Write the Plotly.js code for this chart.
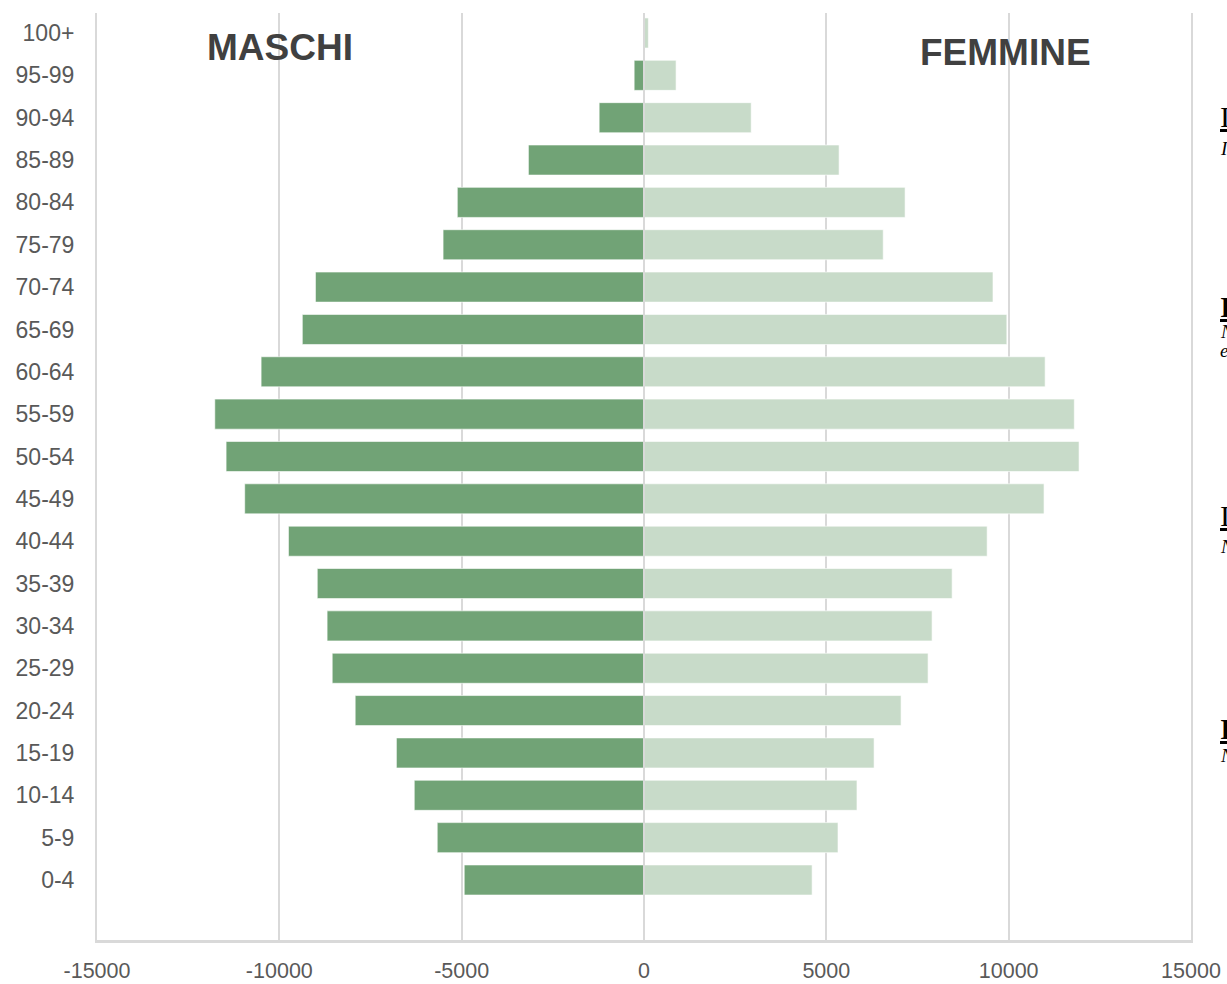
<!DOCTYPE html>
<html>
<head>
<meta charset="utf-8">
<script src="https://cdn.plot.ly/plotly-3.0.1.min.js"></script>
<style>html,body{margin:0;padding:0;background:#fff;overflow:hidden}#chart{width:1227px;height:984px}</style>
</head>
<body>
<div id="chart"></div>
<script>
// Age classes (bottom to top)
const ageClasses = ["0-4","5-9","10-14","15-19","20-24","25-29","30-34","35-39","40-44","45-49","50-54","55-59","60-64","65-69","70-74","75-79","80-84","85-89","90-94","95-99","100+"];
// Males (negative values, left side)
const maschi = [-4930,-5670,-6300,-6790,-7920,-8550,-8690,-8960,-9750,-10950,-11460,-11770,-10500,-9370,-9010,-5510,-5120,-3170,-1230,-270,-10];
// Females (right side)
const femmine = [4610,5320,5840,6310,7050,7790,7900,8450,9410,10970,11930,11800,11000,9950,9570,6560,7160,5350,2940,880,120];
const xTicks = [-15000,-10000,-5000,0,5000,10000,15000];

const plotL = 97, plotR = 1191, plotT = 13, plotB = 940;
const W = 1227, H = 984;
function px2paperX(px){ return (px - plotL) / (plotR - plotL); }
function px2paperY(py){ return (plotB - py) / (plotB - plotT); }

const traces = [
  {type:'bar', orientation:'h', y:ageClasses, x:maschi, name:'Maschi',
   marker:{color:'#71a376', line:{color:'#ffffff', width:0.6}}, hoverinfo:'skip'},
  {type:'bar', orientation:'h', y:ageClasses, x:femmine, name:'Femmine',
   marker:{color:'#c8dbc9', line:{color:'#ffffff', width:0.6}}, hoverinfo:'skip'}
];

const sideFrag = [
  {y:117, text:'<u>Indice di vecchiaia</u>', size:30},
  {y:149, text:'Indica il rapporto tra anziani e giovani', size:19, italic:true},
  {y:306, text:'<b><u>Indice di dipendenza</u></b>', size:30},
  {y:332, text:'Numero di individui non autonomi', size:19, italic:true},
  {y:351, text:'età ogni 100 in età lavorativa', size:19, italic:true},
  {y:515, text:'<u>Indice di ricambio</u>', size:30},
  {y:546, text:'Numero di persone in uscita', size:19, italic:true},
  {y:728, text:'<b><u>Indice di struttura</u></b>', size:30},
  {y:755, text:'Numero di persone in età attiva', size:19, italic:true}
];

const annotations = [
  {xref:'paper', yref:'paper', x:px2paperX(280), y:px2paperY(48), text:'<b>MASCHI</b>', showarrow:false,
   font:{family:'Liberation Sans, Arial, sans-serif', size:37, color:'#404040'}, xanchor:'center', yanchor:'middle'},
  {xref:'paper', yref:'paper', x:px2paperX(1005), y:px2paperY(52), text:'<b>FEMMINE</b>', showarrow:false,
   font:{family:'Liberation Sans, Arial, sans-serif', size:37, color:'#404040'}, xanchor:'center', yanchor:'middle'}
];
sideFrag.forEach(f => {
  annotations.push({xref:'paper', yref:'paper', x:px2paperX(1218), y:px2paperY(f.y),
    text: f.italic ? '<i>'+f.text+'</i>' : f.text, showarrow:false, xanchor:'left', yanchor:'middle',
    font:{family:'Liberation Serif, Times New Roman, serif', size:f.size, color:'#000000'}});
});

const layout = {
  width:W, height:H,
  margin:{l:plotL, r:W-plotR, t:plotT, b:H-plotB, pad:0},
  paper_bgcolor:'#ffffff', plot_bgcolor:'#ffffff',
  barmode:'overlay', bargap:0.29,
  showlegend:false, hovermode:false,
  font:{family:'Liberation Sans, Arial, sans-serif', color:'#595959'},
  xaxis:{range:[-15000,15000], tickvals:xTicks, ticktext:xTicks.map(String), showgrid:true,
    gridcolor:'#d9d9d9', gridwidth:2, zeroline:false, showline:true, linecolor:'#d9d9d9', linewidth:3,
    ticks:'', ticklabelstandoff:9, tickfont:{size:21.5, color:'#595959'}, fixedrange:true},
  yaxis:{type:'category', categoryorder:'array', categoryarray:ageClasses, range:[-1.417,20.472],
    showgrid:false, zeroline:false, showline:true, mirror:true, linecolor:'#d9d9d9', linewidth:2,
    ticks:'', ticklabelstandoff:16, tickfont:{size:23, color:'#595959'}, fixedrange:true},
  shapes:[{type:'line', xref:'x', yref:'paper', x0:0, x1:0, y0:0, y1:1, layer:'above',
    line:{color:'#d9d9d9', width:2}}],
  annotations:annotations
};

Plotly.newPlot('chart', traces, layout, {displayModeBar:false, staticPlot:true});
</script>
</body>
</html>
